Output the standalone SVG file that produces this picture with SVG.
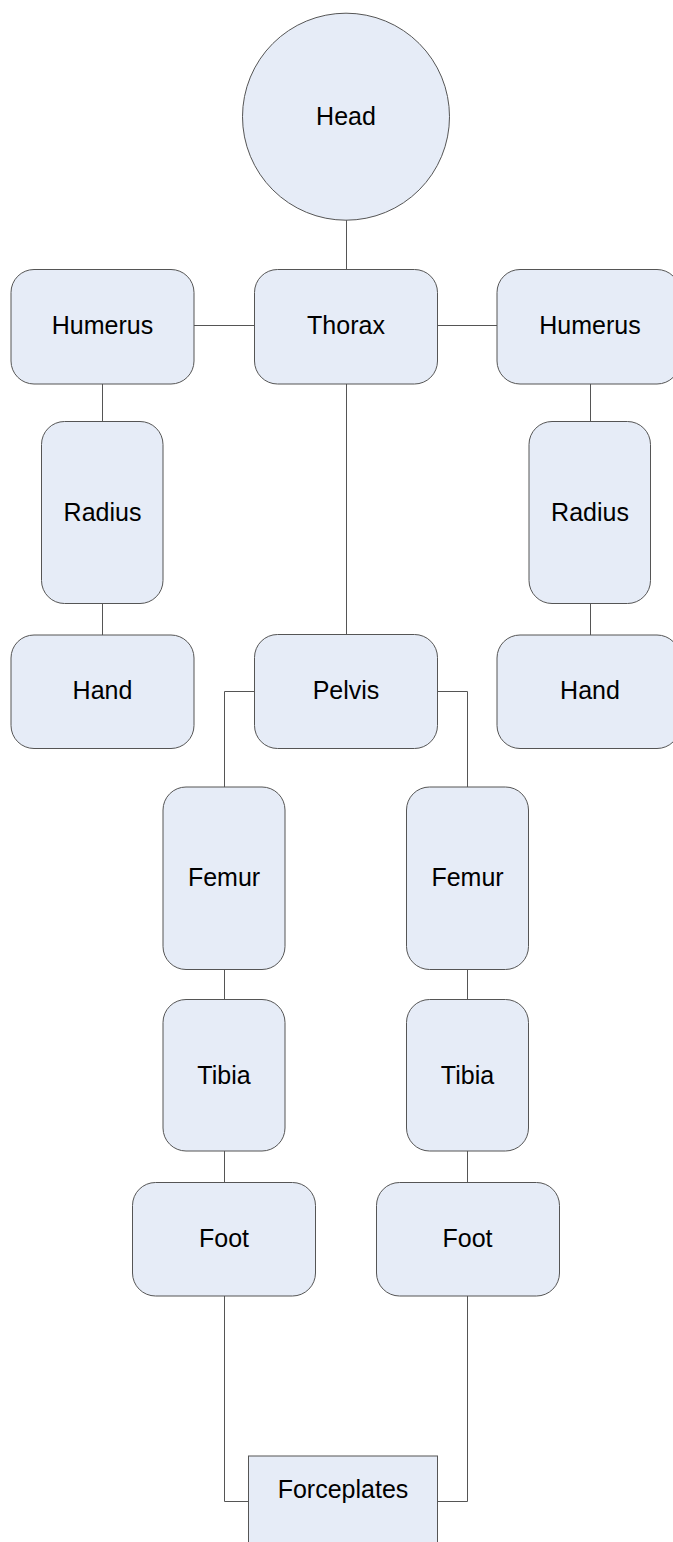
<svg xmlns="http://www.w3.org/2000/svg" width="673" height="1542" viewBox="0 0 673 1542">
<style>
.n{fill:#E6ECF7;stroke:#555;stroke-width:1}
.c{fill:none;stroke:#555;stroke-width:1}
.t{font-family:"Liberation Sans",Arial,sans-serif;font-size:25px;fill:#000;text-anchor:middle}
</style>
<rect width="673" height="1542" fill="#fff"/>
<g id="connectors">
<path class="c" d="M346.5 220V269.5"/>
<path class="c" d="M194 325.5H254.5"/>
<path class="c" d="M437.5 325.5H497"/>
<path class="c" d="M102.5 384V421.5"/>
<path class="c" d="M102.5 603.5V635"/>
<path class="c" d="M590.5 384V421.5"/>
<path class="c" d="M590.5 603.5V635"/>
<path class="c" d="M346.5 384V634.5"/>
<path class="c" d="M254.5 691.5H224.5V787"/>
<path class="c" d="M437.5 691.5H467.5V787"/>
<path class="c" d="M224.5 969.5V999.5"/>
<path class="c" d="M467.5 969.5V999.5"/>
<path class="c" d="M224.5 1151V1182.5"/>
<path class="c" d="M467.5 1151V1182.5"/>
<path class="c" d="M224.5 1296V1501.5H248.5"/>
<path class="c" d="M467.5 1296V1501.5H437.5"/>
</g>
<g id="head"><circle class="n" cx="346" cy="116.7" r="103.5"/><text class="t" x="346" y="125">Head</text></g>
<g id="humerus-left"><rect class="n" x="11" y="269.5" width="183" height="114.5" rx="23"/><text class="t" x="102.5" y="333.5">Humerus</text></g>
<g id="thorax"><rect class="n" x="254.5" y="269.5" width="183" height="114.5" rx="23"/><text class="t" x="346" y="333.5">Thorax</text></g>
<g id="humerus-right"><rect class="n" x="497" y="269.5" width="183" height="114.5" rx="23"/><text class="t" x="590" y="333.5">Humerus</text></g>
<g id="radius-left"><rect class="n" x="41.5" y="421.5" width="121.5" height="182" rx="23"/><text class="t" x="102.5" y="520.5">Radius</text></g>
<g id="radius-right"><rect class="n" x="529" y="421.5" width="121.5" height="182" rx="23"/><text class="t" x="590" y="520.5">Radius</text></g>
<g id="hand-left"><rect class="n" x="11" y="635" width="183" height="113.5" rx="23"/><text class="t" x="102.5" y="699">Hand</text></g>
<g id="pelvis"><rect class="n" x="254.5" y="634.5" width="183" height="114" rx="23"/><text class="t" x="346" y="699">Pelvis</text></g>
<g id="hand-right"><rect class="n" x="497" y="635" width="183" height="113.5" rx="23"/><text class="t" x="590" y="699">Hand</text></g>
<g id="femur-left"><rect class="n" x="163" y="787" width="122" height="182.5" rx="23"/><text class="t" x="224" y="885.5">Femur</text></g>
<g id="femur-right"><rect class="n" x="406.5" y="787" width="122" height="182.5" rx="23"/><text class="t" x="467.5" y="885.5">Femur</text></g>
<g id="tibia-left"><rect class="n" x="163" y="999.5" width="122" height="151.5" rx="23"/><text class="t" x="224" y="1083.5">Tibia</text></g>
<g id="tibia-right"><rect class="n" x="406.5" y="999.5" width="122" height="151.5" rx="23"/><text class="t" x="467.5" y="1083.5">Tibia</text></g>
<g id="foot-left"><rect class="n" x="132.5" y="1182.5" width="183" height="113.5" rx="23"/><text class="t" x="224" y="1246.5">Foot</text></g>
<g id="foot-right"><rect class="n" x="376.5" y="1182.5" width="183" height="113.5" rx="23"/><text class="t" x="467.5" y="1246.5">Foot</text></g>
<g id="forceplates"><rect class="n" x="248.5" y="1456" width="189" height="100"/><text class="t" x="343" y="1498">Forceplates</text></g>
</svg>
